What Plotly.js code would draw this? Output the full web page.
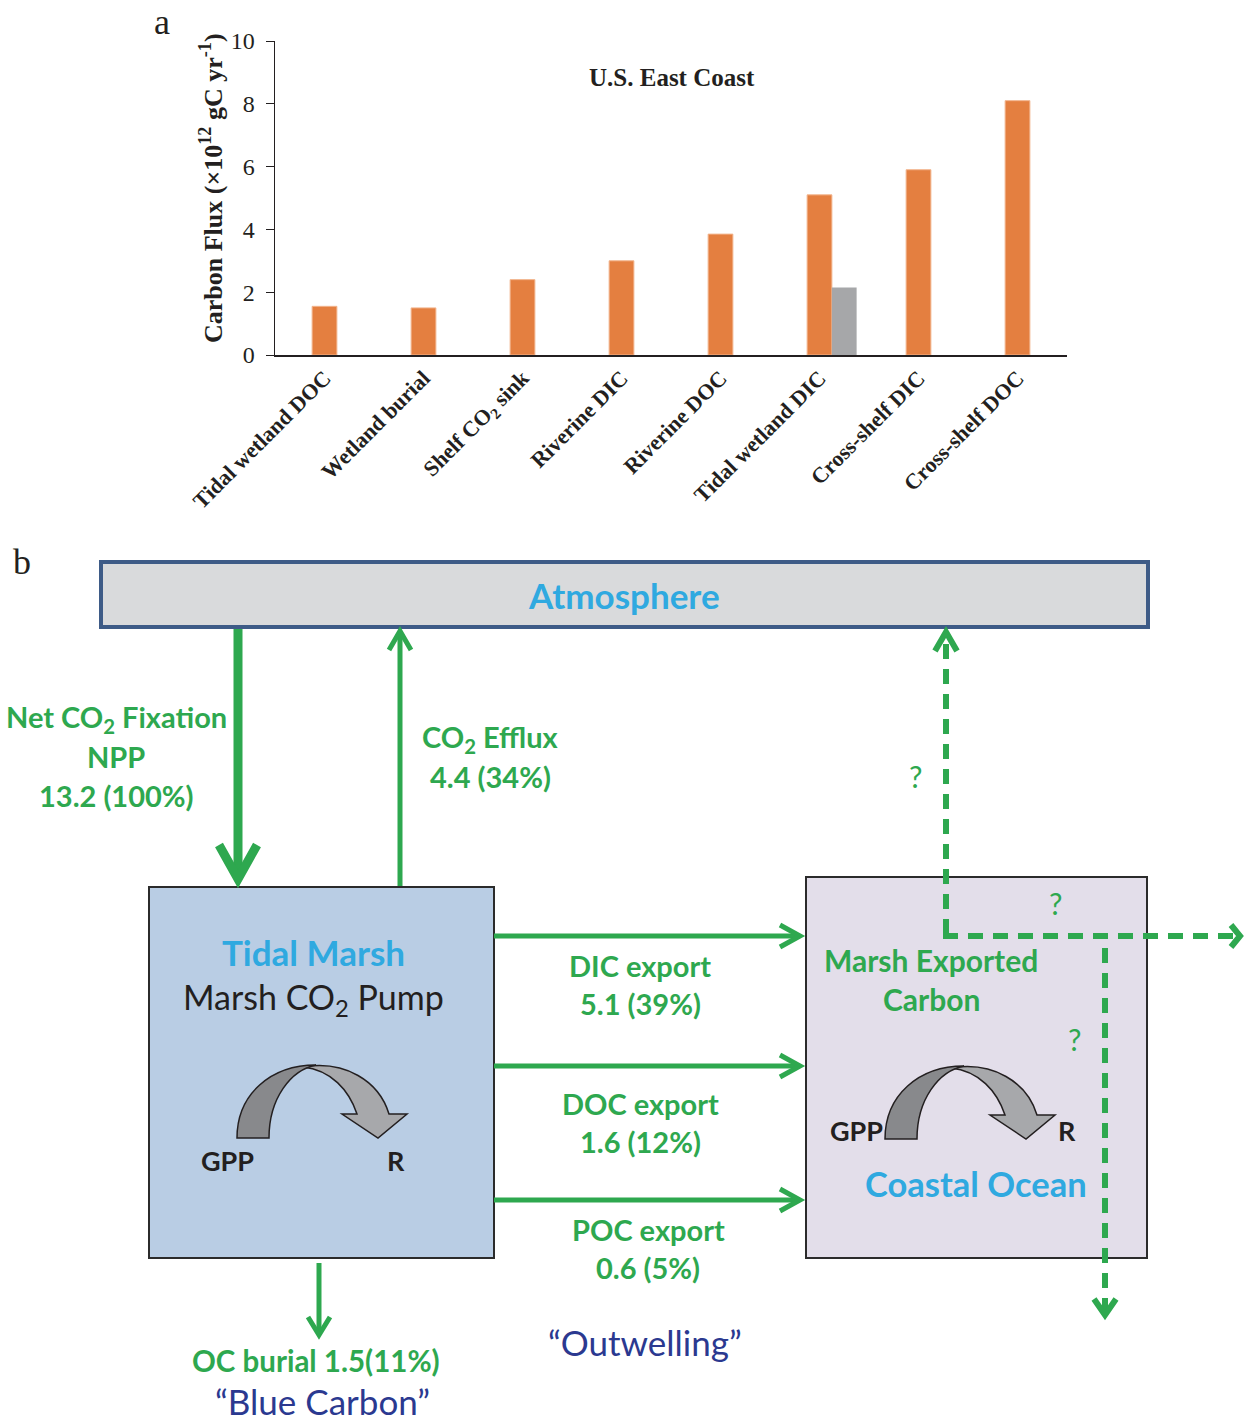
<!DOCTYPE html>
<html>
<head>
<meta charset="utf-8">
<script src="https://cdn.plot.ly/plotly-3.0.1.min.js"></script>
<style>
  html, body { margin: 0; padding: 0; background: #ffffff; }
  #chart { width: 1244px; height: 1422px; }
</style>
</head>
<body>
<div id="chart"></div>
<script>
// ---------- Panel a data ----------
const categories = ['Tidal wetland DOC', 'Wetland burial', 'Shelf CO<sub>2</sub> sink', 'Riverine DIC',
                    'Riverine DOC', 'Tidal wetland DIC', 'Cross-shelf DIC', 'Cross-shelf DOC'];
const eastCoastFlux = [1.55, 1.5, 2.4, 3.0, 3.85, 5.1, 5.9, 8.1];
const altEstimateFlux = [null, null, null, null, null, 2.15, null, null];
const yTickValues = [0, 2, 4, 6, 8, 10];
const chartTitle = 'U.S. East Coast';

// ---------- Panel b data ----------
const fluxNames = ['Net CO<sub>2</sub> Fixation', 'CO<sub>2</sub> Efflux', 'DIC export', 'DOC export', 'POC export', 'OC burial'];
const fluxValues = [13.2, 4.4, 5.1, 1.6, 0.6, 1.5];
const fluxPercents = [100, 34, 39, 12, 5, 11];
const boxNames = ['Atmosphere', 'Tidal Marsh', 'Coastal Ocean'];

const GREEN = '#2EA84F';
const BLUE = '#2FA9E0';
const NAVY = '#2B3990';
const DIAG_FONT = 'Lato, "Open Sans", sans-serif';
const SERIF = '"Liberation Serif", "Times New Roman", serif';

const traces = [
  {
    type: 'bar', x: categories, y: eastCoastFlux, width: 0.25,
    marker: { color: '#E47F40', line: { color: '#F2B48C', width: 1 } },
    showlegend: false, hoverinfo: 'skip'
  },
  {
    type: 'bar', x: categories, y: altEstimateFlux, width: 0.25, offset: 0.125,
    marker: { color: '#A6A7A9' },
    showlegend: false, hoverinfo: 'skip'
  },
  { type: 'scatter', x: [], y: [], xaxis: 'x2', yaxis: 'y2', showlegend: false, hoverinfo: 'skip' }
];

// helpers (pixel frame on x2/y2)
function ann(x, y, text, size, color, opts) {
  return Object.assign({
    x: x, y: y, xref: 'x2', yref: 'y2', text: text, showarrow: false,
    xanchor: 'center', yanchor: 'middle',
    font: { family: DIAG_FONT, size: size, color: color }
  }, opts || {});
}
function line(x0, y0, x1, y1, w, color, dash) {
  return { type: 'line', xref: 'x2', yref: 'y2', x0: x0, y0: y0, x1: x1, y1: y1,
           line: { color: color || GREEN, width: w, dash: dash || 'solid' }, layer: 'above' };
}
function chevron(pts, w) {
  let d = 'M ' + pts[0][0] + ' ' + pts[0][1];
  for (let i = 1; i < pts.length; i++) d += ' L ' + pts[i][0] + ' ' + pts[i][1];
  return { type: 'path', xref: 'x2', yref: 'y2', path: d, fillcolor: 'rgba(0,0,0,0)',
           line: { color: GREEN, width: w }, layer: 'above' };
}
function rect(x0, y0, x1, y1, fill, lc, lw) {
  return { type: 'rect', xref: 'x2', yref: 'y2', x0: x0, y0: y0, x1: x1, y1: y1,
           fillcolor: fill, line: { color: lc, width: lw }, layer: 'below' };
}
function curvedArrow(dx, dy) {
  const P = (x, y) => (x + dx) + ' ' + (y + dy);
  const right = 'M ' + P(303, 1067) + ' C ' + P(345, 1060) + ', ' + P(379, 1081) + ', ' + P(389, 1114) +
    ' L ' + P(407, 1114) + ' L ' + P(378, 1138) + ' L ' + P(342, 1114) + ' L ' + P(357, 1114) +
    ' C ' + P(349, 1090) + ', ' + P(331, 1070) + ', ' + P(303, 1067) + ' Z';
  const left = 'M ' + P(237, 1138) + ' C ' + P(237, 1094) + ', ' + P(271, 1065) + ', ' + P(316, 1065) +
    ' C ' + P(291, 1070) + ', ' + P(269, 1098) + ', ' + P(269, 1138) + ' Z';
  return [
    { type: 'path', xref: 'x2', yref: 'y2', path: right, fillcolor: '#A7A8AB', line: { color: '#231F20', width: 1.5 }, layer: 'above' },
    { type: 'path', xref: 'x2', yref: 'y2', path: left, fillcolor: '#88898C', line: { color: '#231F20', width: 1.5 }, layer: 'above' }
  ];
}

const fmt = i => fluxValues[i].toFixed(1) + ' (' + fluxPercents[i] + '%)';
const DASH = '15px,10px';

const shapes = [
  rect(101, 562, 1148, 627, '#D9DADC', '#3E5B87', 4),
  rect(149, 887, 494, 1258, '#B9CDE4', '#2B2B2B', 2),
  rect(806, 877, 1147, 1258, '#E3DEEA', '#2B2B2B', 2),
  // Net CO2 fixation
  line(238, 629, 238, 878, 9),
  chevron([[219, 845], [238, 879], [257, 845]], 9),
  // CO2 efflux
  line(400, 886, 400, 632, 5),
  chevron([[389, 650], [400, 631], [411, 650]], 5),
  // exports
  line(494, 936, 800, 936, 5), chevron([[780, 925], [800, 936], [780, 947]], 5),
  line(494, 1066, 800, 1066, 5), chevron([[780, 1055], [800, 1066], [780, 1077]], 5),
  line(494, 1200, 800, 1200, 5), chevron([[780, 1189], [800, 1200], [780, 1211]], 5),
  // burial
  line(319, 1263, 319, 1334, 5), chevron([[308, 1317], [319, 1335], [330, 1317]], 5),
  // dashed unknown pathways
  line(946, 934, 946, 636, 6, GREEN, DASH),
  chevron([[935, 651], [946, 632], [957, 651]], 6),
  line(943, 936, 1236, 936, 6, GREEN, DASH),
  chevron([[1231, 925], [1240, 936], [1231, 947]], 6),
  line(1105, 948, 1105, 1312, 6, GREEN, DASH),
  chevron([[1094, 1299], [1105, 1315], [1116, 1299]], 6)
].concat(curvedArrow(0, 0)).concat(curvedArrow(648, 1));

const annotations = [
  // panel a
  { x: 162, y: 22, xref: 'x2', yref: 'y2', text: 'a', showarrow: false, font: { family: SERIF, size: 36, color: '#231F20' } },
  { x: 672, y: 77, xref: 'x2', yref: 'y2', text: '<b>' + chartTitle + '</b>', showarrow: false, font: { family: SERIF, size: 25, color: '#231F20' } },
  { x: 211, y: 188, xref: 'x2', yref: 'y2', text: '<b>Carbon Flux (×10<sup>12</sup> gC yr<sup>-1</sup>)</b>', textangle: -90, showarrow: false, font: { family: SERIF, size: 26, color: '#231F20' } },
  // panel b
  { x: 22, y: 562, xref: 'x2', yref: 'y2', text: 'b', showarrow: false, font: { family: SERIF, size: 36, color: '#231F20' } },
  ann(624, 595, '<b>' + boxNames[0] + '</b>', 35, BLUE),
  ann(116, 718, '<b>' + fluxNames[0] + '</b>', 29, GREEN),
  ann(116, 756, '<b>NPP</b>', 29, GREEN),
  ann(116, 795, '<b>' + fmt(0) + '</b>', 29, GREEN),
  ann(490, 738, '<b>' + fluxNames[1] + '</b>', 29, GREEN),
  ann(490, 776, '<b>' + fmt(1) + '</b>', 29, GREEN),
  ann(313, 952, '<b>' + boxNames[1] + '</b>', 35, BLUE),
  ann(313, 999, 'Marsh CO<sub>2</sub> Pump', 34, '#231F20'),
  ann(227, 1160, '<b>GPP</b>', 27, '#231F20'),
  ann(396, 1160, '<b>R</b>', 27, '#231F20'),
  ann(640, 965, '<b>' + fluxNames[2] + '</b>', 29, GREEN),
  ann(640, 1003, '<b>' + fmt(2) + '</b>', 29, GREEN),
  ann(640, 1103, '<b>' + fluxNames[3] + '</b>', 29, GREEN),
  ann(640, 1141, '<b>' + fmt(3) + '</b>', 29, GREEN),
  ann(648, 1229, '<b>' + fluxNames[4] + '</b>', 29, GREEN),
  ann(648, 1267, '<b>' + fmt(4) + '</b>', 29, GREEN),
  ann(316, 1360, '<b>' + fluxNames[5] + ' ' + fluxValues[5].toFixed(1) + '(' + fluxPercents[5] + '%)</b>', 29.5, GREEN),
  ann(322, 1401, '“Blue Carbon”', 35, NAVY),
  ann(645, 1342, '“Outwelling”', 35, NAVY),
  ann(931, 960, '<b>Marsh Exported</b>', 30, GREEN),
  ann(931, 999, '<b>Carbon</b>', 30, GREEN),
  ann(856, 1130, '<b>GPP</b>', 27, '#231F20'),
  ann(1067, 1130, '<b>R</b>', 27, '#231F20'),
  ann(976, 1183, '<b>' + boxNames[2] + '</b>', 34.5, BLUE),
  ann(915, 776, '?', 30, GREEN),
  ann(1055, 903, '?', 30, GREEN),
  ann(1074, 1039, '?', 30, GREEN)
];

const layout = {
  width: 1244, height: 1422,
  margin: { l: 0, r: 0, t: 0, b: 0 },
  paper_bgcolor: '#ffffff', plot_bgcolor: 'rgba(0,0,0,0)',
  barmode: 'overlay',
  showlegend: false,
  xaxis: {
    domain: [275 / 1244, 1067 / 1244], anchor: 'y', type: 'category', range: [-0.5, 7.5],
    showline: true, linecolor: '#231F20', linewidth: 1.5, ticks: '', showgrid: false, zeroline: false,
    tickangle: -45, tickfont: { family: SERIF, size: 22, color: '#231F20', weight: 'bold' },
    fixedrange: true
  },
  yaxis: {
    domain: [1 - 355 / 1422, 1 - 41 / 1422], anchor: 'x', range: [0, 10], tickvals: yTickValues,
    showline: true, linecolor: '#231F20', linewidth: 1.5, ticks: 'outside', ticklen: 8, tickcolor: '#231F20',
    ticklabelstandoff: 6,
    showgrid: false, zeroline: false,
    tickfont: { family: SERIF, size: 24, color: '#231F20' }, fixedrange: true
  },
  xaxis2: { domain: [0, 1], anchor: 'y2', range: [0, 1244], visible: false, fixedrange: true },
  yaxis2: { domain: [0, 1], anchor: 'x2', range: [1422, 0], visible: false, fixedrange: true },
  shapes: shapes,
  annotations: annotations
};

Plotly.newPlot('chart', traces, layout, { staticPlot: true, displayModeBar: false });
</script>
</body>
</html>
